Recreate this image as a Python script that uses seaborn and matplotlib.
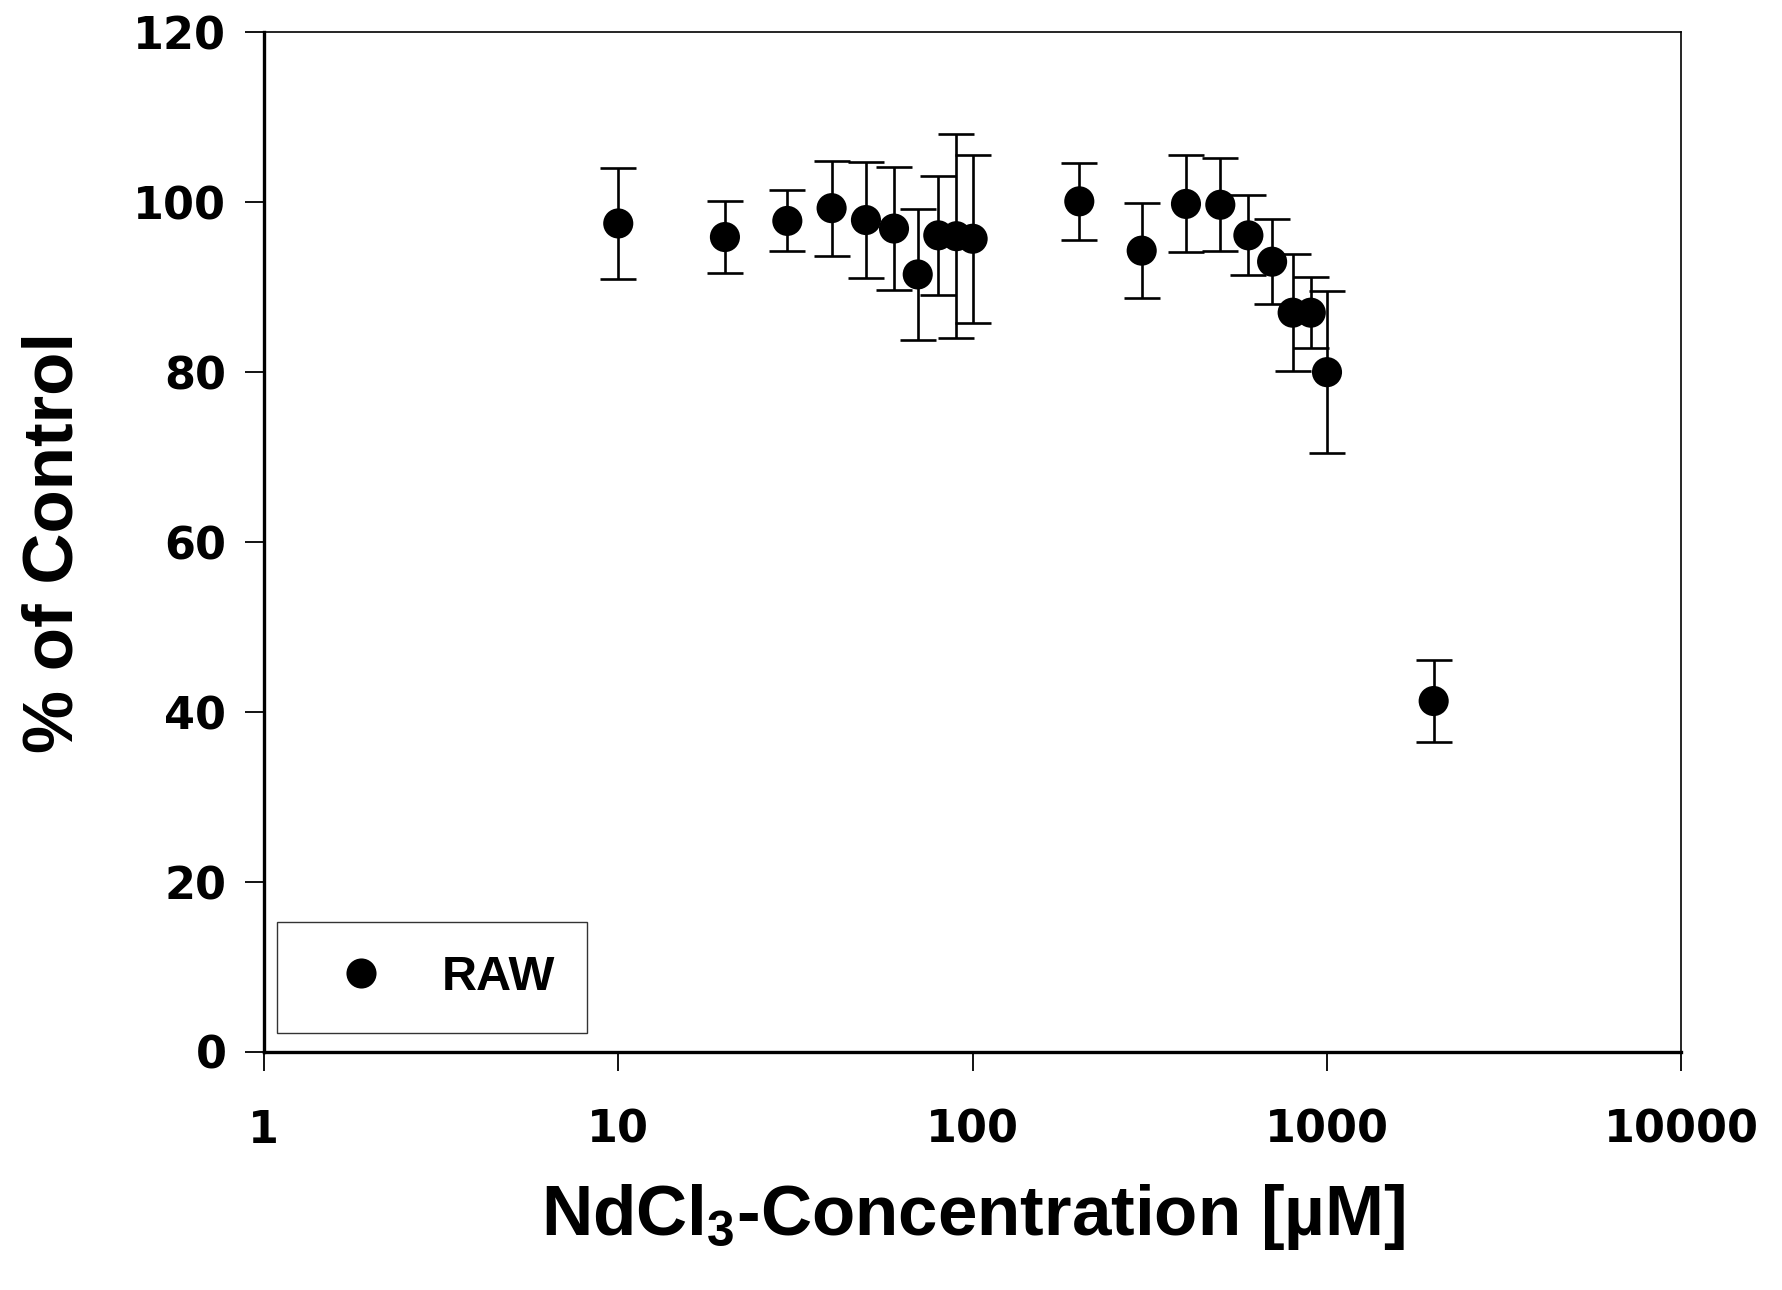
import numpy as np
import pandas as pd
import matplotlib
matplotlib.use("Agg")
import matplotlib.pyplot as plt
import seaborn as sns

# NdCl3 concentration (uM) vs % of control
concentracao = [10, 20, 30, 40, 50, 60, 70, 80, 90, 100,
                200, 300, 400, 500, 600, 700, 800, 900, 1000, 2000]
percentual = [97.5, 95.9, 97.8, 99.3, 97.9, 96.9, 91.5, 96.1, 96.0, 95.7,
              100.1, 94.3, 99.8, 99.7, 96.1, 93.0, 87.0, 87.0, 80.0, 41.3]
erro = [6.5, 4.2, 3.6, 5.6, 6.8, 7.2, 7.7, 7.0, 12.0, 9.9,
        4.5, 5.6, 5.7, 5.5, 4.7, 5.0, 6.9, 4.2, 9.5, 4.8]
serie = "RAW"

dados = pd.DataFrame({"conc": concentracao, "pct": percentual, "err": erro, "serie": serie})

sns.set_style("ticks")
plt.rcParams["font.family"] = ["Liberation Sans", "DejaVu Sans"]
plt.rcParams["font.weight"] = "bold"
plt.rcParams["text.color"] = "black"
plt.rcParams["axes.labelcolor"] = "black"
plt.rcParams["mathtext.fontset"] = "custom"
plt.rcParams["mathtext.rm"] = "Liberation Sans:bold"
plt.rcParams["mathtext.it"] = "Liberation Sans:bold"
plt.rcParams["mathtext.bf"] = "Liberation Sans:bold"

fig = plt.figure(figsize=(17.83, 12.90), dpi=100)
ax = fig.add_axes([0.148, 0.1845, 0.795, 0.7905])

# barras de erro
ax.errorbar(dados["conc"], dados["pct"], yerr=dados["err"], fmt="none",
            ecolor="black", elinewidth=1.9, capsize=13, capthick=1.9, zorder=2)
# pontos
sns.scatterplot(data=dados, x="conc", y="pct", hue="serie", palette=["black"],
                s=470, edgecolor="black", linewidth=0, ax=ax, zorder=3)

ax.set_xscale("log")
ax.set_xlim(1, 10000)
ax.set_ylim(0, 120)
ax.set_xticks([1, 10, 100, 1000, 10000])
ax.set_xticklabels(["1", "10", "100", "1000", "10000"])
ax.xaxis.set_minor_locator(matplotlib.ticker.NullLocator())
ax.set_yticks(range(0, 121, 20))

ax.tick_params(axis="both", direction="out", length=14, width=1.3, labelsize=32,
               colors="black", labelcolor="black")
ax.tick_params(axis="x", pad=27)
ax.tick_params(axis="y", pad=13)
for lbl in ax.get_xticklabels() + ax.get_yticklabels():
    lbl.set_fontweight("bold")
    lbl.set_family("DejaVu Sans")

for lado in ["left", "bottom"]:
    ax.spines[lado].set_linewidth(2.4)
for lado in ["top", "right"]:
    ax.spines[lado].set_linewidth(1.2)
for s in ax.spines.values():
    s.set_color("black")

ax.set_xlabel("NdCl$_3$-Concentration [µM]", fontsize=51, fontweight="bold", labelpad=22)
ax.set_ylabel("% of Control", fontsize=51, fontweight="bold", labelpad=33)

leg = ax.legend(loc="lower left", bbox_to_anchor=(0.0096, 0.019), fontsize=35,
                frameon=True, fancybox=False, edgecolor="black", borderpad=0.67,
                handlelength=2.1, handletextpad=0.6, borderaxespad=0)
leg.get_frame().set_linewidth(1.0)
for t in leg.get_texts():
    t.set_fontweight("bold")
    t.set_color("black")

fig.savefig("out.png", dpi=100)
